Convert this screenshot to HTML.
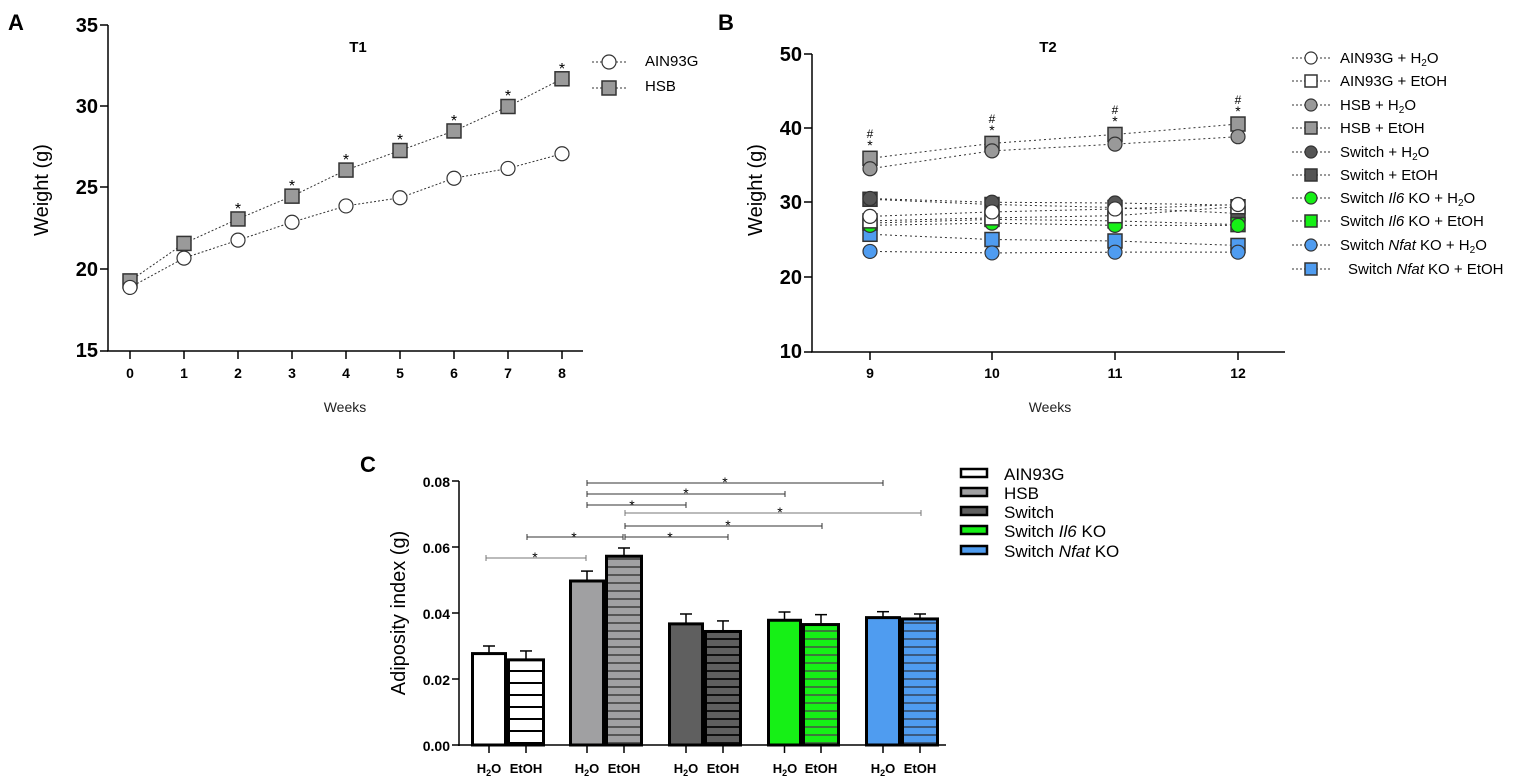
<!DOCTYPE html>
<html><head><meta charset="utf-8"><style>
html,body{margin:0;padding:0;background:#fff;}
svg{display:block;font-family:"Liberation Sans",Arial,sans-serif;}
</style></head><body>
<svg id="s" width="1535" height="780" viewBox="0 0 1535 780" xmlns="http://www.w3.org/2000/svg">
<defs>
<pattern id="hw" width="10" height="12" patternUnits="userSpaceOnUse"><rect width="10" height="12" fill="#fff"/><rect y="10" width="10" height="2" fill="#000"/></pattern>
<pattern id="hg" width="10" height="8" patternUnits="userSpaceOnUse"><rect width="10" height="8" fill="#a0a0a2"/><rect y="6" width="10" height="2" fill="#555"/></pattern>
<pattern id="hd" width="10" height="8" patternUnits="userSpaceOnUse"><rect width="10" height="8" fill="#5f5f5f"/><rect y="6" width="10" height="2" fill="#111"/></pattern>
<pattern id="hgr" width="10" height="8" patternUnits="userSpaceOnUse"><rect width="10" height="8" fill="#16f016"/><rect y="6" width="10" height="2" fill="#3a7a3a"/></pattern>
<pattern id="hb" width="10" height="8" patternUnits="userSpaceOnUse"><rect width="10" height="8" fill="#4f9cf0"/><rect y="6" width="10" height="2" fill="#3a5a80"/></pattern>
</defs>
<g font-weight="bold" font-size="22">
<text x="8" y="30">A</text><text x="718" y="30">B</text><text x="360" y="472">C</text>
</g>
<g font-weight="bold" font-size="15" text-anchor="middle">
<text x="358" y="52">T1</text><text x="1048" y="52">T2</text>
</g>
<g font-weight="bold" font-size="20" text-anchor="end">
<text x="98" y="32">35</text><text x="98" y="113">30</text><text x="98" y="194">25</text><text x="98" y="276">20</text><text x="98" y="357">15</text>
<text x="802" y="61">50</text><text x="802" y="135">40</text><text x="802" y="209">30</text><text x="802" y="284">20</text><text x="802" y="358">10</text>
</g>
<g font-weight="bold" font-size="14" text-anchor="middle">
<text x="130" y="378">0</text><text x="184" y="378">1</text><text x="238" y="378">2</text><text x="292" y="378">3</text><text x="346" y="378">4</text><text x="400" y="378">5</text><text x="454" y="378">6</text><text x="508" y="378">7</text><text x="562" y="378">8</text>
<text x="870" y="378">9</text><text x="992" y="378">10</text><text x="1115" y="378">11</text><text x="1238" y="378">12</text>
</g>
<g font-size="14" text-anchor="middle" fill="#222">
<text x="345" y="412">Weeks</text><text x="1050" y="412">Weeks</text>
</g>
<g font-size="20" text-anchor="middle">
<text transform="translate(48,190) rotate(-90)">Weight (g)</text>
<text transform="translate(762,190) rotate(-90)">Weight (g)</text>
<text transform="translate(405,613) rotate(-90)">Adiposity index (g)</text>
</g>
<g font-size="15">
<text x="645" y="66">AIN93G</text><text x="645" y="91">HSB</text>
</g>
<g font-size="15">
<text x="1340" y="63">AIN93G + H<tspan font-size="10" dy="3">2</tspan><tspan dy="-3">O</tspan></text>
<text x="1340" y="86">AIN93G + EtOH</text>
<text x="1340" y="110">HSB + H<tspan font-size="10" dy="3">2</tspan><tspan dy="-3">O</tspan></text>
<text x="1340" y="133">HSB + EtOH</text>
<text x="1340" y="157">Switch + H<tspan font-size="10" dy="3">2</tspan><tspan dy="-3">O</tspan></text>
<text x="1340" y="180">Switch + EtOH</text>
<text x="1340" y="203">Switch <tspan font-style="italic">Il6</tspan> KO + H<tspan font-size="10" dy="3">2</tspan><tspan dy="-3">O</tspan></text>
<text x="1340" y="226">Switch <tspan font-style="italic">Il6</tspan> KO + EtOH</text>
<text x="1340" y="250">Switch <tspan font-style="italic">Nfat</tspan> KO + H<tspan font-size="10" dy="3">2</tspan><tspan dy="-3">O</tspan></text>
<text x="1348" y="274">Switch <tspan font-style="italic">Nfat</tspan> KO + EtOH</text>
</g>
<g font-size="17">
<text x="1004" y="480">AIN93G</text><text x="1004" y="499">HSB</text><text x="1004" y="518">Switch</text>
<text x="1004" y="537">Switch <tspan font-style="italic">Il6</tspan> KO</text>
<text x="1004" y="557">Switch <tspan font-style="italic">Nfat</tspan> KO</text>
</g>
<g font-weight="bold" font-size="14" text-anchor="end">
<text x="450" y="487">0.08</text><text x="450" y="553">0.06</text><text x="450" y="619">0.04</text><text x="450" y="685">0.02</text><text x="450" y="751">0.00</text>
</g>
<g font-weight="bold" font-size="13" text-anchor="middle">
<text x="489" y="773">H<tspan font-size="9" dy="3">2</tspan><tspan dy="-3">O</tspan></text><text x="526" y="773">EtOH</text>
<text x="587" y="773">H<tspan font-size="9" dy="3">2</tspan><tspan dy="-3">O</tspan></text><text x="624" y="773">EtOH</text>
<text x="686" y="773">H<tspan font-size="9" dy="3">2</tspan><tspan dy="-3">O</tspan></text><text x="723" y="773">EtOH</text>
<text x="785" y="773">H<tspan font-size="9" dy="3">2</tspan><tspan dy="-3">O</tspan></text><text x="821" y="773">EtOH</text>
<text x="883" y="773">H<tspan font-size="9" dy="3">2</tspan><tspan dy="-3">O</tspan></text><text x="920" y="773">EtOH</text>
</g>
<g font-size="16" text-anchor="middle">
<text x="238" y="214">*</text><text x="292" y="191">*</text><text x="346" y="165">*</text><text x="400" y="145">*</text><text x="454" y="126">*</text><text x="508" y="101">*</text><text x="562" y="74">*</text>
</g>
<g font-size="14" text-anchor="middle">
<text x="870" y="150">*</text><text x="870" y="138" font-size="12">#</text>
<text x="992" y="135">*</text><text x="992" y="123" font-size="12">#</text>
<text x="1115" y="126">*</text><text x="1115" y="114" font-size="12">#</text>
<text x="1238" y="116">*</text><text x="1238" y="104" font-size="12">#</text>
</g>
<g font-size="14" text-anchor="middle">
<text x="725" y="487">*</text><text x="686" y="498">*</text><text x="632" y="510">*</text><text x="780" y="517">*</text><text x="728" y="530">*</text><text x="670" y="542">*</text><text x="574" y="542">*</text><text x="535" y="562">*</text>
</g>
<g id="g"></g>
</svg>
<script>
var NS="http://www.w3.org/2000/svg",G=document.getElementById("g");
function el(t,a){var e=document.createElementNS(NS,t);for(var k in a)e.setAttribute(k,a[k]);G.appendChild(e);return e;}
function L(x1,y1,x2,y2,s,w,d){var a={x1:x1,y1:y1,x2:x2,y2:y2,stroke:s||"#000","stroke-width":w||1.5};if(d)a["stroke-dasharray"]=d;el("line",a);}
function mk(x,y,shape,fill,r){r=r||7;if(shape=="c")el("circle",{cx:x,cy:y,r:r,fill:fill,stroke:"#333","stroke-width":1.2});else el("rect",{x:x-r,y:y-r,width:2*r,height:2*r,fill:fill,stroke:"#333","stroke-width":1.5});}
L(108,25,108,351);L(107,351,583,351);
[25,106,187,269,351].forEach(function(y){L(100,y,108,y);});
for(var i=0;i<9;i++)L(130+54*i,351,130+54*i,359);
function ya(v){return 351-(v-15)*16.3;}
var ain=[18.9,20.7,21.8,22.9,23.9,24.4,25.6,26.2,27.1],hsb=[19.3,21.6,23.1,24.5,26.1,27.3,28.5,30.0,31.7];
function line(xs,ys,d){var p=xs.map(function(x,i){return x+","+ys[i]}).join(" ");el("polyline",{points:p,fill:"none",stroke:"#333","stroke-width":1,"stroke-dasharray":d||"2,2"});}
var xa=ain.map(function(v,i){return 130+54*i});
line(xa,hsb.map(ya));line(xa,ain.map(ya));
hsb.forEach(function(v,i){mk(xa[i],ya(v),"s","#9a9a9a");});
ain.forEach(function(v,i){mk(xa[i],ya(v),"c","#fff");});
L(592,62,626,62,"#333",1,"2,2");mk(609,62,"c","#fff");
L(592,88,626,88,"#333",1,"2,2");mk(609,88,"s","#9a9a9a");
L(812,54,812,352);L(811,352,1285,352);
[54,128,202,277,352].forEach(function(y){L(804,y,812,y);});
var xb=[870,992,1115,1238];xb.forEach(function(x){L(x,352,x,360);});
function yb(v){return 352-(v-10)*7.45;}
var S=[
["c","#fff",[28.2,28.8,29.2,29.8]],["s","#fff",[27.6,28.0,28.3,29.5]],
["c","#999",[34.6,37.0,37.9,38.9]],["s","#999",[36.0,38.0,39.2,40.6]],
["c","#555",[30.6,30.1,30.0,29.7]],["s","#555",[30.5,29.8,29.4,28.6]],
["c","#16f016",[27.0,27.3,27.0,27.0]],["s","#16f016",[27.3,27.8,27.6,27.1]],
["c","#4f9cf0",[23.5,23.3,23.4,23.4]],["s","#4f9cf0",[25.8,25.1,24.9,24.3]]];
S.forEach(function(s){line(xb,s[2].map(yb),"2,3");});
[9,8,3,2,5,4,7,6,1,0].forEach(function(k){var s=S[k];s[2].forEach(function(v,i){mk(xb[i],yb(v),s[0],s[1],7);});});
var ly=[58,81,105,128,152,175,198,221,245,269];
S.forEach(function(s,i){L(1292,ly[i],1330,ly[i],"#333",1,"2,2");mk(1311,ly[i],s[0],s[1],6);});
L(459,481,459,746);L(458,745,946,745);
[481,547,613,679,745].forEach(function(y){L(452,y,459,y);});
function yc(v){return 745-v*3300;}
var bars=[[471,507,.0277,.0023,"#fff"],[507,545,.0258,.0027,"url(#hw)"],[569,605,.0497,.0030,"#a0a0a2"],[605,643,.0572,.0025,"url(#hg)"],
[668,704,.0367,.0030,"#5f5f5f"],[704,742,.0344,.0032,"url(#hd)"],[767,802,.0378,.0025,"#16f016"],[802,840,.0365,.0030,"url(#hgr)"],
[865,901,.0386,.0018,"#4f9cf0"],[901,939,.0382,.0015,"url(#hb)"]];
bars.forEach(function(b){var c=(b[0]+b[1])/2,t=yc(b[2]),e=yc(b[2]+b[3]);L(c,t,c,e,"#000",1.5);L(c-6,e,c+6,e,"#000",1.5);
el("rect",{x:b[0]+1.5,y:t,width:b[1]-b[0]-3,height:745-t,fill:b[4],stroke:"#000","stroke-width":3});L(c,745,c,753,"#000",1.5);});
[[587,883,483],[587,785,494],[587,686,505],[625,921,513,"#777"],[625,822,526],[625,728,537],[527,623,537],[486,586,558,"#777"]].forEach(function(s){var c=s[3]||"#333";L(s[0],s[2],s[1],s[2],c,1);L(s[0],s[2]-3,s[0],s[2]+3,c,1);L(s[1],s[2]-3,s[1],s[2]+3,c,1);});
var lc=["#fff","#a0a0a2","#5f5f5f","#16f016","#4f9cf0"];
[473,492,511,530,550].forEach(function(y,i){el("rect",{x:961,y:y-4,width:26,height:8,fill:lc[i],stroke:"#000","stroke-width":2.5});});
</script>
</body></html>
